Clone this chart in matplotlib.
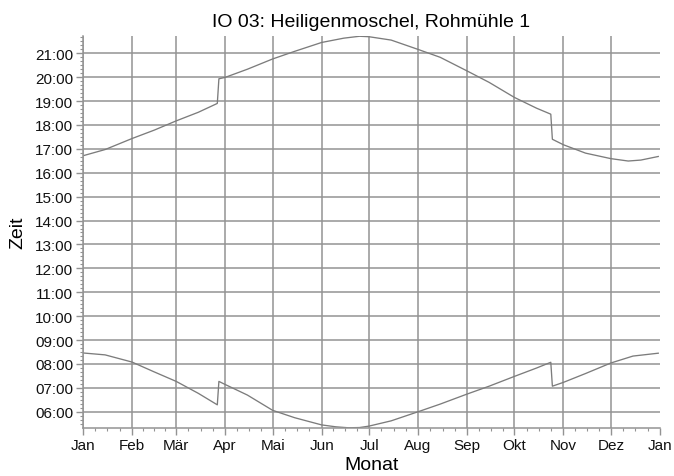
import numpy as np
import matplotlib
matplotlib.use("Agg")
import matplotlib.pyplot as plt
from matplotlib.ticker import FixedLocator, FuncFormatter

plt.rcParams['font.family'] = ['Liberation Sans', 'DejaVu Sans']

# day of year (0 = 1 Jan)
sunset_day = [0, 14, 31, 45, 59, 73, 85, 86, 90, 104, 120, 134, 151, 165, 175,
              181, 195, 212, 226, 243, 257, 273, 287, 296, 297, 304, 318, 334,
              345, 353, 364]
sunset_h = [16.71, 16.97, 17.43, 17.78, 18.17, 18.53, 18.90, 19.93, 19.99, 20.33,
            20.76, 21.08, 21.45, 21.63, 21.71, 21.69, 21.55, 21.16, 20.83, 20.26,
            19.78, 19.15, 18.70, 18.45, 17.40, 17.17, 16.82, 16.59, 16.49, 16.53,
            16.68]

sunrise_day = [0, 14, 31, 45, 59, 73, 85, 86, 90, 104, 120, 134, 151, 160, 168,
               175, 181, 195, 212, 226, 243, 257, 273, 287, 296, 297, 304, 318,
               334, 348, 364]
sunrise_h = [8.46, 8.38, 8.08, 7.67, 7.27, 6.77, 6.29, 7.27, 7.14, 6.70,
             6.06, 5.75, 5.45, 5.37, 5.33, 5.34, 5.40, 5.62, 6.00, 6.32,
             6.74, 7.07, 7.48, 7.83, 8.07, 7.07, 7.23, 7.60, 8.04, 8.33,
             8.45]

month_len = [31, 28, 31, 30, 31, 30, 31, 31, 30, 31, 30, 31]
month_names = ['Jan', 'Feb', 'Mär', 'Apr', 'Mai', 'Jun', 'Jul', 'Aug', 'Sep',
               'Okt', 'Nov', 'Dez', 'Jan']
hour_ticks = list(range(6, 22))

month_start = np.concatenate([[0], np.cumsum(month_len)])
minor_x = []
for i in range(12):
    for q in (0.25, 0.5, 0.75):
        minor_x.append(month_start[i] + q * month_len[i])

fig = plt.figure(figsize=(6.74, 4.77), dpi=100)
ax = fig.add_axes([0.1231, 0.1006, 0.979 - 0.1231, 0.9224 - 0.1006])

gray = '#939393'
ax.plot(sunset_day, sunset_h, color='#7c7c7c', lw=0.95)
ax.plot(sunrise_day, sunrise_h, color='#7c7c7c', lw=0.95)

ax.set_xlim(0, 365)
ax.set_ylim(5.32, 21.72)

ax.xaxis.set_major_locator(FixedLocator(month_start))
ax.set_xticklabels(month_names)
ax.xaxis.set_minor_locator(FixedLocator(minor_x))

ax.yaxis.set_major_locator(FixedLocator(hour_ticks))
ax.yaxis.set_major_formatter(FuncFormatter(lambda v, p: '%02d:00' % int(round(v))))
ax.yaxis.set_minor_locator(FixedLocator(np.arange(5.5, 21.72, 1 / 6)))

ax.grid(True, which='major', color=gray, lw=1.1)
ax.xaxis.get_gridlines()[-1].set_visible(False)
ax.set_axisbelow(True)

for s in ('top', 'right'):
    ax.spines[s].set_visible(False)
for s in ('left', 'bottom'):
    ax.spines[s].set_color(gray)
    ax.spines[s].set_linewidth(1.1)

ax.tick_params(which='major', length=5, width=1.0, color=gray,
               labelsize=11, labelcolor='#111111', pad=2)
ax.tick_params(which='minor', length=2.5, width=0.8, color=gray)

ax.set_title('IO 03: Heiligenmoschel, Rohmühle 1', fontsize=14, pad=7)
ax.set_xlabel('Monat', fontsize=14, labelpad=3)
ax.set_ylabel('Zeit', fontsize=14, labelpad=6)

fig.savefig('out.png', dpi=100)
